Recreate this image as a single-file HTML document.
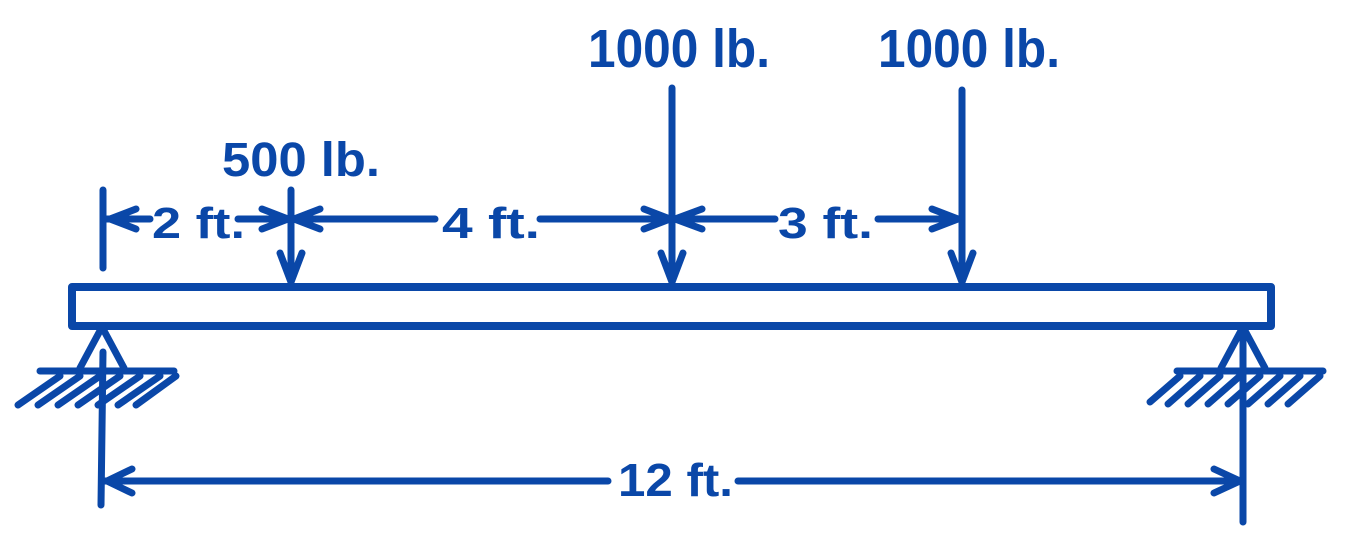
<!DOCTYPE html>
<html><head><meta charset="utf-8"><style>
html,body{margin:0;padding:0;background:#fff;width:1350px;height:548px;overflow:hidden}
text{font-family:"Liberation Sans",sans-serif;font-weight:bold;fill:#0a47a8}
</style></head><body>
<svg width="1350" height="548" viewBox="0 0 1350 548" xmlns="http://www.w3.org/2000/svg">
<g stroke="#0a47a8" fill="none" stroke-width="7" stroke-linecap="round" stroke-linejoin="round">
<rect x="72" y="287" width="1199" height="39" stroke-width="8"/>
<path d="M102 327 L80 368 M102 327 L124 368"/>
<path d="M40 371 L174 371"/>
<path d="M60 376 L18 405 M80 376 L38 405 M100 376 L58 405 M120 376 L78 405 M140 376 L98 405 M160 376 L118 405 M176 376 L136 405"/>
<path d="M103 190 L103 268 M103 352 L101 505"/>
<path d="M1243 327 L1221 368 M1243 327 L1265 368"/>
<path d="M1177 371 L1323 371"/>
<path d="M1180 376 L1150 402 M1200 376 L1168 404 M1220 376 L1188 404 M1240 376 L1208 404 M1260 376 L1228 404 M1280 376 L1248 404 M1300 376 L1268 404 M1320 376 L1288 404"/>
<path d="M1243 330 L1243 522"/>
<path d="M291 190 L291 283 M280 253 L291 282 L302 253"/>
<path d="M672 88 L672 283 M661 253 L672 282 L683 253"/>
<path d="M962 90 L962 283 M951 253 L962 282 L973 253"/>
<path d="M105 219 L150 219 M110 219 L136 209 M110 219 L136 229"/>
<path d="M238 219 L288 219 M262 209 L288 219 L262 229"/>
<path d="M294 219 L435 219 M294 219 L320 209 M294 219 L320 229"/>
<path d="M540 219 L670 219 M644 209 L670 219 L644 229"/>
<path d="M675 219 L775 219 M675 219 L702 209 M675 219 L702 229"/>
<path d="M878 219 L958 219 M932 209 L958 219 L932 229"/>
<path d="M105 481 L608 481 M107 481 L132 469 M107 481 L132 493"/>
<path d="M738 481 L1240 481 M1214 469 L1240 481 L1214 493"/>
</g>
<text x="588" y="67" font-size="54" textLength="182" lengthAdjust="spacingAndGlyphs">1000 lb.</text>
<text x="878" y="67" font-size="54" textLength="182" lengthAdjust="spacingAndGlyphs">1000 lb.</text>
<text x="222" y="176" font-size="48" textLength="158" lengthAdjust="spacingAndGlyphs">500 lb.</text>
<text x="152" y="238" font-size="44" textLength="93" lengthAdjust="spacingAndGlyphs">2 ft.</text>
<text x="442" y="238" font-size="44" textLength="98" lengthAdjust="spacingAndGlyphs">4 ft.</text>
<text x="778" y="238" font-size="44" textLength="95" lengthAdjust="spacingAndGlyphs">3 ft.</text>
<text x="618" y="496" font-size="46" textLength="115" lengthAdjust="spacingAndGlyphs">12 ft.</text>
</svg>
</body></html>
